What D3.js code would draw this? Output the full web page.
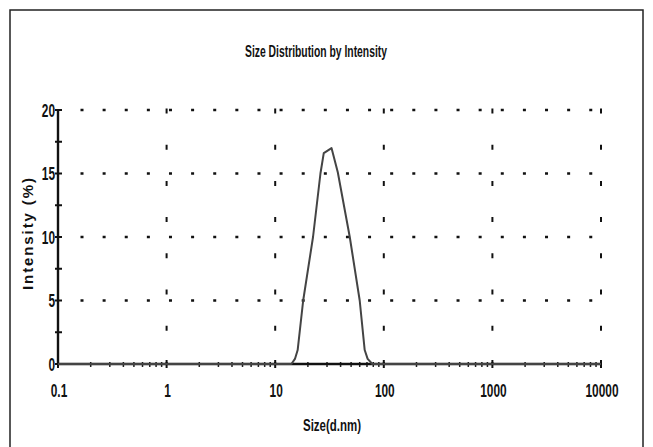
<!DOCTYPE html>
<html>
<head>
<meta charset="utf-8">
<script src="https://cdn.jsdelivr.net/npm/d3@7"></script>
<style>
  html, body { margin: 0; padding: 0; background: #fff; }
  svg { display: block; }
  text { font-family: "Liberation Sans Narrow", "Liberation Sans", Arial, sans-serif; fill: #111; }
</style>
</head>
<body>
<svg id="chart"></svg>
<script>
// size distribution (size in d.nm, intensity in %)
const sizes     = [0.1, 1, 10, 14.1, 15.2, 16.1, 18.1, 22.3, 26.1, 28, 33, 37.7, 48.6, 60, 66.7, 71, 78.5, 100, 1000, 10000]
const intensity = [0,   0, 0,  0,    0.4,  1.1,  5,    10,   15,   16.6, 17, 15.1, 10,  5,  1.1,  0.4, 0,  0,   0,    0]
const xTicks = [0.1, 1, 10, 100, 1000, 10000]
const xTickLabels = ["0.1", "1", "10", "100", "1000", "10000"]
const yTicks = [0, 5, 10, 15, 20]

const width = 653, height = 447
const svg = d3.select("#chart").attr("width", width).attr("height", height)

// outer frame (bottom edge runs off the picture)
svg.append("rect")
  .attr("x", 10).attr("y", 10).attr("width", 633).attr("height", 460)
  .attr("fill", "none").attr("stroke", "#222").attr("stroke-width", 1.5)

const x = d3.scaleLog().domain([0.1, 10000]).range([58, 601])
const y = d3.scaleLinear().domain([0, 20]).range([364, 110])

// dotted horizontal grid
svg.append("g").selectAll("line")
  .data(yTicks.filter(d => d > 0))
  .join("line")
  .attr("x1", x(0.1) + 4).attr("x2", x(10000))
  .attr("y1", d => y(d)).attr("y2", d => y(d))
  .attr("stroke", "#111").attr("stroke-width", 2.6)
  .attr("stroke-dasharray", "3,19.12")
  .attr("stroke-dashoffset", 3.62)

// dashed vertical grid at each decade
svg.append("g").selectAll("line")
  .data(xTicks.filter(d => d > 0.1))
  .join("line")
  .attr("x1", d => x(d)).attr("x2", d => x(d))
  .attr("y1", y(20) - 1.5).attr("y2", y(0))
  .attr("stroke", "#111").attr("stroke-width", 2)
  .attr("stroke-dasharray", "5,31.2")

// x minor ticks (2..9 in each decade)
const minor = []
for (let e = -1; e < 4; e++) for (let m = 2; m <= 9; m++) minor.push(m * Math.pow(10, e))
svg.append("g").selectAll("line")
  .data(minor)
  .join("line")
  .attr("x1", d => x(d)).attr("x2", d => x(d))
  .attr("y1", y(0) - 2).attr("y2", y(0) + 3)
  .attr("stroke", "#222").attr("stroke-width", 1.5)

// x major ticks
svg.append("g").selectAll("line")
  .data(xTicks)
  .join("line")
  .attr("x1", d => x(d)).attr("x2", d => x(d))
  .attr("y1", y(0) - 4).attr("y2", y(0) + 4)
  .attr("stroke", "#111").attr("stroke-width", 2)

// y ticks (major + half steps)
const yMinor = d3.range(0, 20.01, 2.5)
svg.append("g").selectAll("line")
  .data(yMinor)
  .join("line")
  .attr("x1", x(0.1) - 3).attr("x2", x(0.1) + 4)
  .attr("y1", d => y(d)).attr("y2", d => y(d))
  .attr("stroke", "#111").attr("stroke-width", 2)

// axes lines
svg.append("line")
  .attr("x1", x(0.1)).attr("x2", x(10000))
  .attr("y1", y(0)).attr("y2", y(0))
  .attr("stroke", "#111").attr("stroke-width", 2.4)
svg.append("line")
  .attr("x1", x(0.1)).attr("x2", x(0.1))
  .attr("y1", y(0)).attr("y2", y(20))
  .attr("stroke", "#111").attr("stroke-width", 2.4)

// distribution curve
const data = sizes.map((s, i) => ({ size: s, value: intensity[i] }))
const line = d3.line()
  .x(d => x(d.size))
  .y(d => y(d.value))
svg.append("path")
  .datum(data)
  .attr("fill", "none")
  .attr("stroke", "#444")
  .attr("stroke-width", 2)
  .attr("stroke-linejoin", "round")
  .attr("d", line)

// tick labels (condensed bold look)
svg.append("g").selectAll("text")
  .data(yTicks)
  .join("text")
  .attr("transform", d => `translate(${x(0.1) - 3},${y(d) + 6.5}) scale(0.66,1)`)
  .attr("text-anchor", "end")
  .style("font-size", "18px").style("font-weight", "bold")
  .text(d => d)

svg.append("g").selectAll("text")
  .data(xTicks)
  .join("text")
  .attr("transform", d => `translate(${x(d) + 1},397) scale(0.66,1)`)
  .attr("text-anchor", "middle")
  .style("font-size", "18px").style("font-weight", "bold")
  .text((d, i) => xTickLabels[i])

// titles
svg.append("text")
  .attr("x", 316).attr("y", 57)
  .attr("text-anchor", "middle")
  .attr("textLength", 142).attr("lengthAdjust", "spacingAndGlyphs")
  .style("font-size", "16px").style("font-weight", "bold")
  .text("Size Distribution by Intensity")

svg.append("text")
  .attr("x", 332).attr("y", 431)
  .attr("text-anchor", "middle")
  .attr("textLength", 58).attr("lengthAdjust", "spacingAndGlyphs")
  .style("font-size", "17px").style("font-weight", "bold")
  .text("Size(d.nm)")

svg.append("text")
  .attr("transform", "translate(33,234) rotate(-90)")
  .attr("text-anchor", "middle")
  .attr("textLength", 112).attr("lengthAdjust", "spacing")
  .style("font-size", "15px").style("font-weight", "bold")
  .text("Intensity (%)")
</script>
</body>
</html>
